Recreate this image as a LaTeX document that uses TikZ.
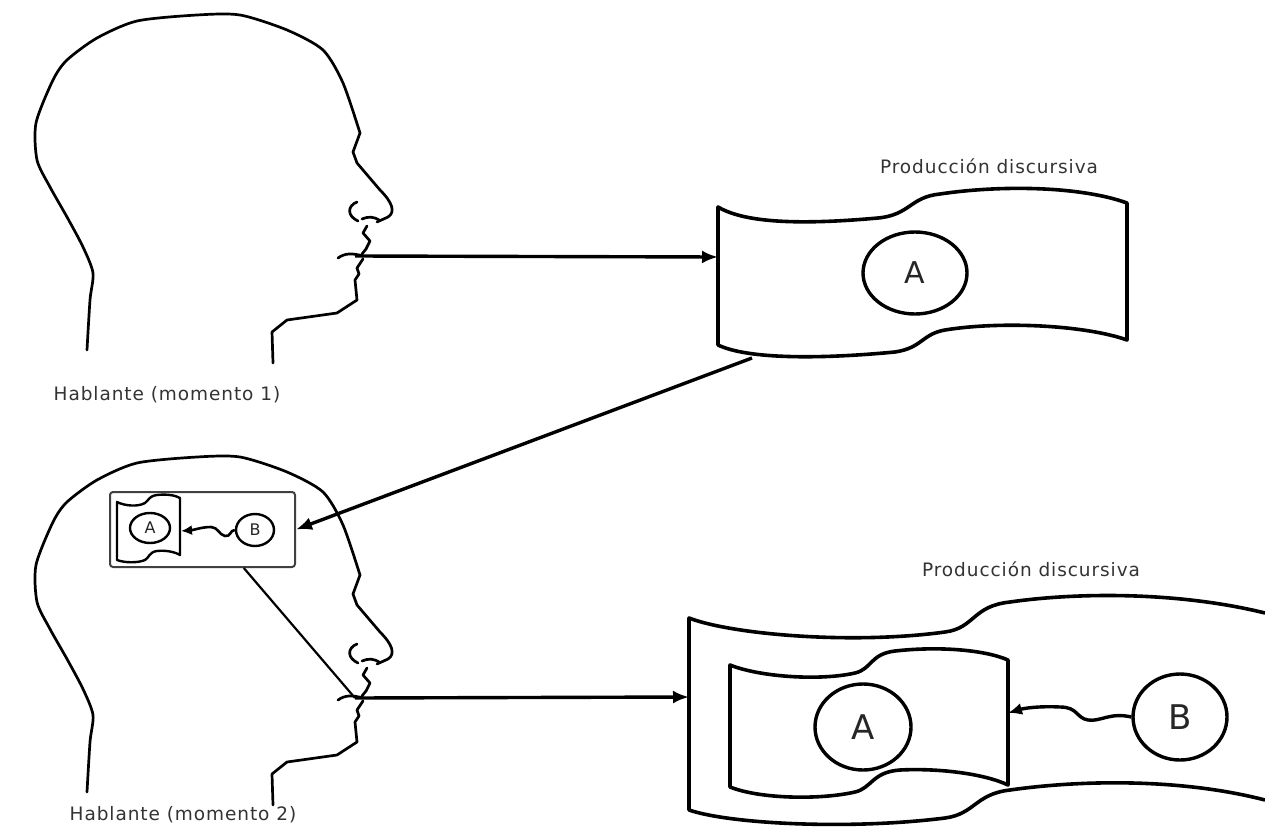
\documentclass[tikz,border=0pt]{standalone}
\usepackage{fontspec}
\setmainfont{DejaVu Sans}
\newfontfamily\capfont[LetterSpace=5]{DejaVu Sans}
\usetikzlibrary{arrows.meta,shapes.geometric}

\tikzset{
  outline/.style={line width=2.7pt, line join=round, line cap=round},
  banner/.style={line width=3.6pt, line join=round, fill=white},
  bubble/.style={ellipse, draw, line width=3.4pt, inner sep=0pt, text=black!85},
  arr/.style={line width=3.4pt, -{Latex[length=16pt,width=13pt]}},
  squig/.style={line width=3.4pt, -{Latex[length=14pt,width=12pt]}},
  memo/.style={draw=black!75, line width=2pt, rounded corners=3pt, fill=white},
  caption/.style={text=black!80, font=\capfont\fontsize{18.5}{20}\selectfont, inner sep=0pt},
  pics/speaker/.style={code={
    % back of the head, over the top, down to the nose
    \draw[outline] plot[smooth, tension=.45] coordinates {(87,350) (90,300) (93,273)
      (83,247) (67,217) (50,187) (37,160) (36,123) (53,80) (67,60) (97,38) (137,21)
      (197,15) (240,15) (287,30) (323,50) (343,83) (360,133)}
      -- (353,152) -- (357,163) -- (380,190)
      .. controls (392,202) and (396,212) .. (388,217) -- (377,222);
    % nostril
    \draw[outline] (357,202) .. controls (347,206) and (347,216) .. (358,221);
    \draw[outline] (362,219) .. controls (368,216) and (375,217) .. (379,220);
    % lips and chin
    \draw[outline] (367,226) -- (363,233) -- (370,241) -- (366,249) -- (362,254);
    \draw[outline] (338,258) .. controls (345,253) and (352,253) .. (363,256);
    \draw[outline] (363,259) -- (357,268) -- (359,274) -- (355,280) -- (357,300)
      -- (337,313) -- (287,320) -- (272,332) -- (273,363);
    \coordinate (-mouth) at (355,256);
  }}
}

\begin{document}
\begin{tikzpicture}[x=1pt, y=-1pt]
	\useasboundingbox (0,0) rectangle (1265,834);
	% speakers
	\pic (h1) at (0,0) {speaker};
	\pic (h2) at (0,442) {speaker};
	\node[caption] (h1label) at (167,395) {Hablante (momento 1)};
	\node[caption] (h2label) at (183,815) {Hablante (momento 2)};

	% first discursive production
	\draw[banner] (718,207) .. controls (745,223) and (800,225) .. (878,218)
	.. controls (910,215) and (910,197) .. (940,194)
	.. controls (1000,185) and (1080,186) .. (1127,203)
	-- (1127,340)
	.. controls (1085,325) and (1000,321) .. (945,330)
	.. controls (922,334) and (922,348) .. (895,352)
	.. controls (810,360) and (745,358) .. (718,345) -- cycle;
	\coordinate (b1west) at (718,257);
	\coordinate (b1foot) at (752,358);
	\node[bubble, minimum width=104, minimum height=82, font=\fontsize{30}{30}\selectfont] (A1) at (915,273) {A};
	\node[caption] (pd1) at (989,166) {Producción discursiva};

	% second discursive production
	\draw[banner] (1265,613) .. controls (1180,592) and (1080,592) .. (1010,602)
	.. controls (972,606) and (975,628) .. (945,632)
	.. controls (850,645) and (730,634) .. (689,618)
	-- (689,810)
	.. controls (730,824) and (850,830) .. (945,818)
	.. controls (975,814) and (975,794) .. (1010,790)
	.. controls (1080,780) and (1180,778) .. (1265,800);
	\draw[banner] (730,665) .. controls (760,677) and (820,681) .. (855,673)
	.. controls (872,669) and (870,654) .. (895,651)
	.. controls (940,646) and (985,650) .. (1008,660)
	-- (1008,785)
	.. controls (985,774) and (940,768) .. (900,770)
	.. controls (872,772) and (872,788) .. (855,792)
	.. controls (820,800) and (760,799) .. (730,787) -- cycle;
	\coordinate (b2west) at (689,697);
	\coordinate (in2east) at (1008,713);
	\node[bubble, minimum width=96, minimum height=86, font=\fontsize{34}{34}\selectfont] (A2) at (863,727) {A};
	\node[bubble, minimum width=94, minimum height=86, font=\fontsize{34}{34}\selectfont] (B2) at (1180,717) {B};
	\node[caption] (pd2) at (1031,569) {Producción discursiva};
	\draw[squig] (B2.west) .. controls (1110,712) and (1100,722) .. (1088,720)
	.. controls (1076,718) and (1078,707) .. (1060,707)
	.. controls (1040,706) and (1025,708) .. (in2east);

	% memory box in the second head
	\node[memo, minimum width=185, minimum height=75] (box) at (202.5,529.5) {};
	\draw[line width=2.4pt, line join=round] (117,502) .. controls (125,506) and (138,507) .. (145,503)
	.. controls (149,500) and (149,496) .. (157,495)
	.. controls (166,494) and (175,495) .. (180,498) -- (180,555)
	.. controls (175,552) and (166,550) .. (157,551)
	.. controls (149,552) and (149,558) .. (145,560)
	.. controls (138,563) and (125,563) .. (117,560) -- cycle;
	\coordinate (mineast) at (181,531);
	\node[bubble, line width=2.4pt, minimum width=40, minimum height=30, font=\fontsize{16}{16}\selectfont] (mA) at (150,528) {A};
	\node[bubble, line width=2.4pt, minimum width=38, minimum height=32, font=\fontsize{16}{16}\selectfont] (mB) at (255,530) {B};
	\draw[line width=2.6pt, -{Latex[length=11pt,width=10pt]}] (mB.west) .. controls (230,530) and (231,537) .. (225,536)
	.. controls (219,535) and (218,527) .. (211,527)
	.. controls (202,527) and (194,530) .. (mineast);

	% arrows
	\draw[arr] (h1-mouth) -- (b1west);
	\draw[arr] (h2-mouth) -- (b2west);
	\draw[arr] (b1foot) -- (box.east);
	\draw[line width=2.2pt] (box.-43) -- (h2-mouth);
\end{tikzpicture}
\end{document}
